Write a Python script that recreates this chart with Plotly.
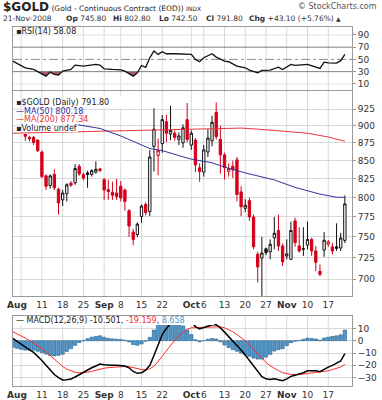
import numpy as np
import plotly.graph_objects as go

# ---------------- data (trading-day index 0 = 1-Aug-2008 ... 79 = 21-Nov-2008) ----------------
days = list(range(80))
open_ = [913, 908, 887, 883, 883, 879, 862, 829, 816, 831,
         811, 797, 805, 819, 819.5, 842, 831, 833, 831, 834,
         838.5, 824, 810.5, 807, 806, 815, 810, 783, 756, 753,
         775.6, 791, 782, 870, 857, 874, 906, 888, 889, 880,
         875, 909, 872, 879, 840, 834, 862, 878, 920, 880,
         858, 835, 842, 851, 807.5, 786, 796, 775, 729, 724.5,
         735.5, 732, 749, 758, 739, 727, 723, 770, 739, 735,
         740, 747, 733, 709, 734, 741, 738, 736, 736.5, 745.8]
high = [920, 912, 887.5, 885, 885, 880, 864, 831, 831, 838,
        813, 810, 819, 822, 845, 845, 833, 836, 838, 849,
        840, 826, 824, 821, 825, 822, 812, 785, 760, 768,
        791, 794, 865, 926, 881, 916, 916, 930, 893, 890,
        902, 934, 893, 882, 846, 872, 895, 915, 935, 900,
        861, 846, 850, 855, 815, 798, 800, 778, 732, 750,
        737, 747, 775, 778, 742, 747, 769, 774, 762, 762,
        769, 749, 739, 717, 756, 746, 743, 767, 755, 802.8]
low = [905, 895, 878, 877, 872, 862, 826, 810, 812, 810,
       778, 789, 795, 814, 817, 829, 823, 813, 828, 832,
       834, 797, 797, 797, 797, 795, 783, 750, 740, 750,
       767.7, 777, 776, 835, 830, 861, 876, 879, 878, 872,
       868, 876, 865, 834, 821, 828, 855, 870, 880, 832,
       824, 828, 826, 795, 776, 781, 770, 735, 696, 681,
       728, 723, 735, 733, 715, 723, 722, 738, 731, 727,
       735, 727, 709, 703, 726, 738, 729, 733, 733, 742.5]
close = [910, 898, 884.5, 881, 875.5, 864, 828, 815, 829, 813,
         793, 806, 817, 816.5, 839, 831.5, 826, 831, 836, 838,
         836.5, 810, 808, 803, 801.5, 799.5, 795, 763.5, 747, 766,
         789, 780.6, 855, 895, 864, 909, 889, 893, 883, 885,
         897, 880, 889, 844, 835, 865, 882, 905, 884, 858,
         840, 839, 837, 804, 788, 790, 775, 738, 714, 730.5,
         731, 741, 754.5, 739, 720, 729.5, 758, 743, 733, 735.5,
         747, 733, 719.5, 705.5, 746, 744, 733, 738, 748.7, 791.8]

ma50_days = [0, 5, 10, 14, 20, 25, 32, 35, 39, 42, 47, 50, 55, 62, 67, 73, 77, 79]
ma50_vals = [925, 917, 909, 902, 896, 885, 867, 864, 857, 852, 847, 841, 833, 823.5, 813.5, 804.5, 800.5, 800.18]
ma200_days = [-1, 10, 25, 40, 50, 54, 58, 64, 70, 75, 79]
ma200_vals = [889, 890.5, 892.5, 894, 896, 896.5, 895, 892, 889, 883.5, 877.34]

rsi_days = [-1, 2, 4, 6, 7, 8, 9, 10, 11, 13, 14, 16, 17, 19, 20, 21, 23, 25, 26, 28,
            29, 30, 31, 32, 33, 34, 35, 36, 38, 40, 42, 43, 44, 45, 47, 48, 50, 51, 53, 55,
            56, 58, 59, 61, 63, 64, 66, 67, 70, 73, 74, 75, 77, 78, 79]
rsi_vals = [47.3, 36.3, 33.6, 25.4, 22.7, 29.2, 25.4, 24.3, 30.9, 33.6, 40.7, 39, 40.2, 41.8, 40.7, 34.7, 33.6, 33, 30.9, 22.7,
            28, 40, 37, 52.7, 63.7, 58.2, 62.6, 59.3, 59.3, 58.2, 58.2, 50, 46.2, 52.7, 59.3, 53.8, 47.3, 46.2, 39, 36.3,
            32.5, 28.1, 32, 32.5, 37.4, 33.6, 41.8, 40.2, 41.8, 35.2, 45.6, 44.5, 44, 48, 58.08]

macd_days = list(range(-1, 80))
macd_vals = [1.9, -0.5, -3, -5.5, -7.5, -9.5, -12.5, -16, -20, -24,
             -27.5, -30, -31.9, -31.8, -31.2, -29.5, -27.5, -26, -24, -22,
             -20.5, -19, -19.5, -20, -20, -20, -20, -20.5, -22, -25,
             -26.5, -26, -24, -20, -12, -3, 5, 10, 14, 17,
             18.5, 19, 18, 15.5, 11.5, 9.5, 10.5, 12, 13, 13,
             10.5, 7, 3.5, 0, -3.5, -7.5, -11.6, -16, -21, -25.5,
             -29.2, -31, -31.5, -31, -31.5, -32.5, -31, -29, -28, -27.3,
             -26, -24.5, -24.4, -24.4, -25.2, -23, -21.5, -20, -18.5, -16.5,
             -10.501]
signal_vals = [7.3, 5.7, 4.0, 2.1, 0.2, -1.8, -3.9, -6.3, -9.1, -12.1,
               -15.1, -18.1, -20.9, -23.1, -24.7, -25.7, -26.0, -26.0, -25.6, -24.9,
               -24.0, -23.0, -22.3, -21.9, -21.5, -21.2, -21.0, -20.9, -21.1, -21.9,
               -22.8, -23.4, -23.6, -22.8, -20.7, -17.1, -12.7, -8.2, -3.7, 0.4,
               4.0, 7.0, 9.2, 10.5, 10.7, 10.4, 10.5, 10.8, 11.2, 11.6,
               11.4, 10.5, 9.1, 7.3, 5.1, 2.6, -0.2, -3.4, -6.9, -10.6,
               -14.3, -17.7, -20.4, -22.6, -24.3, -26.0, -27.0, -27.4, -27.5, -27.5,
               -27.2, -26.6, -26.2, -25.8, -25.7, -25.2, -24.4, -23.5, -22.5, -21.3,
               -19.159]

tick_days = [0, 6, 11, 16, 21, 25, 30, 35, 42, 45, 50, 55, 60, 65, 70, 75]
tick_text = ['Aug', '11', '18', '25', 'Sep', '8', '15', '22', 'Oct', '6', '13', '20', '27', 'Nov', '10', '17']
month_ticks = {'Aug', 'Sep', 'Oct', 'Nov'}
grid_days = [1, 6, 11, 16, 21, 25, 30, 35, 42, 45, 50, 55, 60, 65, 70, 75]
price_ticks = [700, 725, 750, 775, 800, 825, 850, 875, 900, 925]
rsi_ticks = [10, 30, 50, 70, 90]
macd_ticks = [-30, -20, -10, 0, 10]

# ---------------- geometry helpers ----------------
PL, PR, PT, PB = 13, 352, 27, 386
W, H = PR - PL, PB - PT
def px(x):
    return (x - PL) / W
def py(y):
    return (PB - y) / H

X_RANGE = [-0.964, 80.72]
RSI_DOM = [py(90), 1.0]
PRICE_DOM = [py(296), py(91)]
MACD_DOM = [0.0, py(316)]
PRICE_RANGE = [np.log10(680.8), np.log10(952.7)]

RED = '#d4001a'
BLK = '#111111'
GRID = '#d9d9d9'
FONT = 'DejaVu Sans'

fig = go.Figure()

# ---------------- candles ----------------
red_mask = [True] + [close[i] < close[i - 1] for i in range(1, len(close))]
for color, want in ((RED, True), (BLK, False)):
    idx = [i for i in days if red_mask[i] == want]
    fig.add_trace(go.Candlestick(
        x=[days[i] for i in idx], open=[open_[i] for i in idx], high=[high[i] for i in idx],
        low=[low[i] for i in idx], close=[close[i] for i in idx],
        xaxis='x2', yaxis='y2', whiskerwidth=0, hoverinfo='skip',
        increasing=dict(line=dict(color=color, width=1), fillcolor='white'),
        decreasing=dict(line=dict(color=color, width=1), fillcolor=color)))

fig.add_trace(go.Scatter(x=ma200_days, y=ma200_vals, mode='lines', xaxis='x2', yaxis='y2',
                         line=dict(color='#e8363c', width=1), hoverinfo='skip'))
fig.add_trace(go.Scatter(x=ma50_days, y=ma50_vals, mode='lines', xaxis='x2', yaxis='y2',
                         line=dict(color='#33339e', width=1), hoverinfo='skip'))

# ---------------- RSI ----------------
fx, fy = [], []
for i in range(len(rsi_days)):
    if i > 0:
        a, b = rsi_vals[i - 1], rsi_vals[i]
        if (a - 30) * (b - 30) < 0:
            t = (30 - a) / (b - a)
            fx.append(rsi_days[i - 1] + t * (rsi_days[i] - rsi_days[i - 1]))
            fy.append(30)
    fx.append(rsi_days[i])
    fy.append(min(rsi_vals[i], 30))
fig.add_trace(go.Scatter(x=[fx[0], fx[-1]], y=[30, 30], mode='lines', line=dict(width=0),
                         xaxis='x', yaxis='y', hoverinfo='skip'))
fig.add_trace(go.Scatter(x=fx, y=fy, mode='lines', line=dict(width=0), fill='tonexty',
                         fillcolor='#a25f63', xaxis='x', yaxis='y', hoverinfo='skip'))
fig.add_trace(go.Scatter(x=rsi_days, y=rsi_vals, mode='lines', line=dict(color='#111', width=1.3),
                         xaxis='x', yaxis='y', hoverinfo='skip'))

# ---------------- MACD ----------------
hist = [m - s for m, s in zip(macd_vals, signal_vals)]
fig.add_trace(go.Bar(x=macd_days, y=hist, width=0.8, marker=dict(color='#4f96cb', line=dict(color='#23628f', width=0.6)),
                     xaxis='x3', yaxis='y3', hoverinfo='skip'))
fig.add_trace(go.Scatter(x=macd_days, y=signal_vals, mode='lines', line=dict(color='#ff2a2a', width=1),
                         xaxis='x3', yaxis='y3', hoverinfo='skip'))
fig.add_trace(go.Scatter(x=macd_days, y=macd_vals, mode='lines', line=dict(color='#000', width=1.5),
                         xaxis='x3', yaxis='y3', hoverinfo='skip'))

# ---------------- axes ----------------
ticktext = ['<b>%s</b>' % t if t in month_ticks else t for t in tick_text]
common_x = dict(range=X_RANGE, showgrid=False, zeroline=False, showline=True, mirror=True,
                linecolor='#9a9a9a', linewidth=1, ticks='', fixedrange=True, tickangle=0, automargin=False)
common_y = dict(side='right', showline=True, mirror=True, linecolor='#9a9a9a', linewidth=1,
                ticks='outside', ticklen=3, tickcolor='#9a9a9a', zeroline=False, automargin=False,
                tickfont=dict(family=FONT, size=9, color='#333'), gridcolor=GRID, fixedrange=True)

shapes = []
for dom in (RSI_DOM, PRICE_DOM, MACD_DOM):
    for d in grid_days:
        shapes.append(dict(type='line', xref='x', yref='paper', x0=d, x1=d, y0=dom[0], y1=dom[1],
                           line=dict(color=GRID, width=1), layer='below'))
# RSI reference lines
for lvl, col, dash in ((90, '#e2e2e2', 'solid'), (10, '#e2e2e2', 'solid'), (70, '#7f7f7f', 'solid'),
                       (30, '#7f7f7f', 'solid'), (50, '#8f8f8f', 'dashdot')):
    shapes.append(dict(type='line', xref='x domain', yref='y', x0=0, x1=1, y0=lvl, y1=lvl,
                       line=dict(color=col, width=1, dash=dash), layer='below'))
# legend background (price panel) and MACD label background
shapes.append(dict(type='rect', xref='paper', yref='paper', x0=px(13.5), x1=px(78), y0=py(132), y1=py(92),
                   fillcolor='white', line=dict(width=0), layer='above'))
shapes.append(dict(type='rect', xref='paper', yref='paper', x0=px(78), x1=px(128), y0=py(108), y1=py(96),
                   fillcolor='white', line=dict(width=0), layer='above'))
shapes.append(dict(type='rect', xref='paper', yref='paper', x0=px(13.5), x1=px(214), y0=py(325), y1=py(316.5),
                   fillcolor='white', line=dict(width=0), layer='above'))
# grid lines visible through the legend box
for d in grid_days[:3]:
    shapes.append(dict(type='line', xref='x', yref='paper', x0=d, x1=d, y0=py(132), y1=py(92),
                       line=dict(color=GRID, width=1), layer='above'))
for p in (900, 925):
    shapes.append(dict(type='line', xref='paper', yref='y2', x0=px(13.5), x1=px(78), y0=p, y1=p,
                       line=dict(color=GRID, width=1), layer='above'))

fig.update_layout(
    width=382, height=400, margin=dict(l=PL, r=382 - PR, t=PT, b=400 - PB, autoexpand=False),
    paper_bgcolor='white', plot_bgcolor='white', showlegend=False, boxgap=0.2,
    font=dict(family=FONT, size=9, color='#222'),
    xaxis=dict(common_x, anchor='y', domain=[0, 1], showticklabels=False),
    xaxis2=dict(common_x, anchor='y2', domain=[0, 1], tickmode='array', tickvals=tick_days, ticktext=ticktext,
                tickfont=dict(family=FONT, size=9, color='#333'), rangeslider=dict(visible=False)),
    xaxis3=dict(common_x, anchor='y3', domain=[0, 1], tickmode='array', tickvals=tick_days, ticktext=ticktext,
                tickfont=dict(family=FONT, size=9, color='#333')),
    yaxis=dict(common_y, anchor='x', domain=RSI_DOM, range=[0, 103], tickvals=rsi_ticks, showgrid=False),
    yaxis2=dict(common_y, anchor='x2', domain=PRICE_DOM, type='log', range=PRICE_RANGE,
                tickvals=price_ticks, showgrid=True),
    yaxis3=dict(common_y, anchor='x3', domain=MACD_DOM, range=[-36.8, 20.1], tickvals=macd_ticks, showgrid=True),
    shapes=shapes,
)

ann = []
def text(x, y, s, size=9, color='#222', anchor='left'):
    ann.append(dict(xref='paper', yref='paper', x=px(x), y=py(y), text=s,
                    showarrow=False, xanchor=anchor, yanchor='middle',
                    font=dict(family=FONT, size=size, color=color)))

text(1, 7, '<b style="font-size:12px">$GOLD</b> (Gold - Continuous Contract (EOD)) <span style="font-size:6px">INDX</span>', 7.5, '#222')
text(379, 7, '© StockCharts.com', 8, '#555', anchor='right')
text(1, 19, '21-Nov-2008', 7.5, '#333')
text(64, 19, '<b>Op</b> 745.80', 7.5, '#333')
text(111, 19, '<b>Hi</b> 802.80', 7.5, '#333')
text(157, 19, '<b>Lo</b> 742.50', 7.5, '#333')
text(204, 19, '<b>Cl</b> 791.80', 7.5, '#333')
text(247, 19, '<b>Chg</b> +43.10 (+5.76%) <span style="font-size:6px">▲</span>', 7.5, '#333')
text(14, 31, '▪RSI(14) 58.08', 8, '#222')
text(14, 102.5, '▪$GOLD (Daily) 791.80', 8, '#222')
text(14, 111, '—MA(50) 800.18', 8, '#33339e')
text(14, 119.5, '—MA(200) 877.34', 8, '#e8363c')
text(14, 128.3, '▪Volume undef', 8, '#222')
text(14, 320.5, '— MACD(12,26,9) -10.501, <span style="color:#ff2a2a">-19.159</span>, '
     '<span style="color:#4f96cb">8.658</span>', 8, '#222')
fig.update_layout(annotations=ann)

fig.write_html('out.html', config={'displayModeBar': False, 'staticPlot': True},
               post_script="document.body.style.margin='0';")
